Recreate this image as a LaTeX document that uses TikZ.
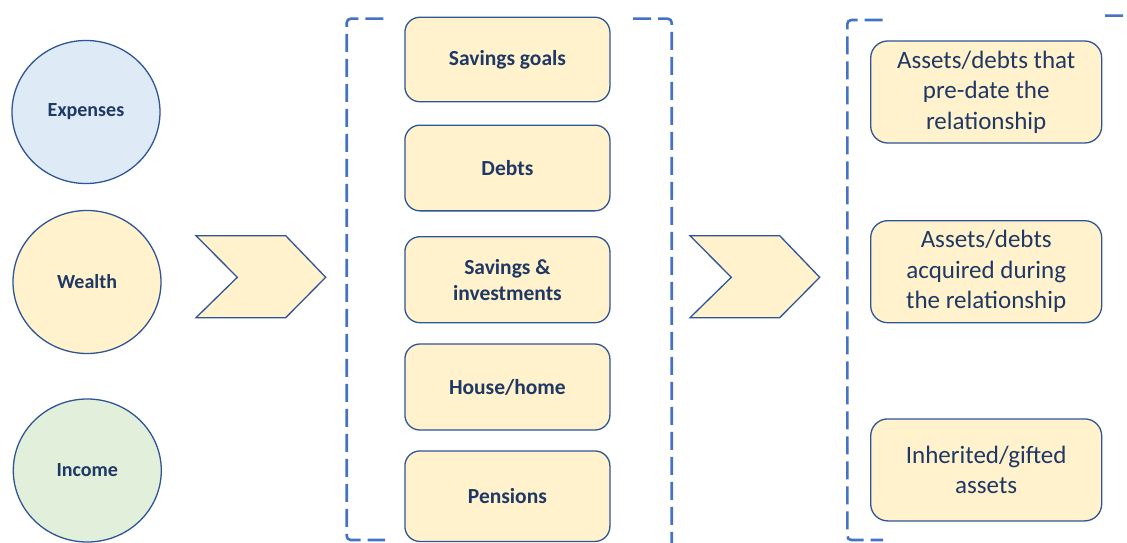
\documentclass[tikz,border=0pt]{standalone}
\usepackage{fontspec}
\setmainfont{Carlito}
\usetikzlibrary{shapes.geometric}

\definecolor{navy}{HTML}{1F3864}
\definecolor{edgeblue}{HTML}{2F5597}
\definecolor{dashblue}{HTML}{4472C4}
\definecolor{paleyellow}{HTML}{FFF2CC}
\definecolor{paleblue}{HTML}{DEEBF7}
\definecolor{palegreen}{HTML}{E2EFDA}

\tikzset{
  topic/.style={ellipse, draw=edgeblue, line width=1.3pt, minimum width=148pt,
    minimum height=143pt, inner sep=0pt, text=navy,
    font=\fontsize{20}{24}\selectfont\bfseries},
  itembox/.style={rectangle, rounded corners=15pt, draw=edgeblue, line width=1.3pt,
    fill=paleyellow, minimum width=205pt, inner sep=0pt, align=center, text=navy,
    font=\fontsize{21.5}{26.3}\selectfont\bfseries},
  kindbox/.style={rectangle, rounded corners=17pt, draw=edgeblue, line width=1.3pt,
    fill=paleyellow, minimum width=231pt, minimum height=102pt, inner sep=0pt,
    align=center, text=navy, font=\fontsize{25}{30.5}\selectfont},
  chevron/.style={draw=edgeblue, line width=1.3pt, fill=paleyellow, line join=miter},
  brace/.style={draw=dashblue, line width=2.6pt, dash pattern=on 18pt off 7pt,
    rounded corners=4pt}
}

\begin{document}
\begin{tikzpicture}[x=1pt, y=-1pt]
  \useasboundingbox (0,0) rectangle (1127,543);
  \clip (0,0) rectangle (1127,543);
  \fill[white] (0,0) rectangle (1127,543);

  % the three topics
  \node[topic, fill=paleblue]   (expenses) at (86,112)   {Expenses};
  \node[topic, fill=paleyellow] (wealth)   at (87,282)   {Wealth};
  \node[topic, fill=palegreen]  (income)   at (87.3,470.5) {Income};

  % chevrons
  \draw[chevron] (196,235.7) -- (285.7,235.7) -- (325.7,277.3) -- (285.7,317.7)
    -- (196,317.7) -- (237.3,277.3) -- cycle;
  \draw[chevron] (690,235.7) -- (779.7,235.7) -- (819.7,277.3) -- (779.7,317.7)
    -- (690,317.7) -- (731.3,277.3) -- cycle;

  % middle group brackets
  \draw[brace] (383.3,18.7) -- (346.7,18.7) -- (346.7,540) -- (385,540);
  \draw[brace] (633,18.7) -- (671.7,18.7) -- (671.7,552) -- (633,552);

  % wealth items
  \node[itembox, minimum height=84.5pt] (goals)   at (507.4,59.5) {Savings goals};
  \node[itembox, minimum height=85.7pt] (debts)   at (507.4,168)  {Debts};
  \node[itembox, minimum height=86pt]   (savings) at (507.4,279.7) {Savings \&\\investments};
  \node[itembox, minimum height=86pt]   (house)   at (507.4,387)  {House/home};
  \node[itembox, minimum height=90.5pt] (pension) at (507.4,496.2) {Pensions};

  % right group brackets
  \draw[brace] (882.7,20) -- (847.3,20) -- (847.3,540) -- (883,540);
  \draw[brace] (1105,15.7) -- (1140,15.7) -- (1140,540);

  % kinds of assets
  \node[kindbox] (before) at (986.2,92)    {Assets/debts that\\pre-date the\\relationship};
  \node[kindbox] (during) at (986.2,271.7) {Assets/debts\\acquired during\\the relationship};
  \node[kindbox] (gifted) at (986.2,469.9) {Inherited/gifted\\assets};
\end{tikzpicture}
\end{document}
